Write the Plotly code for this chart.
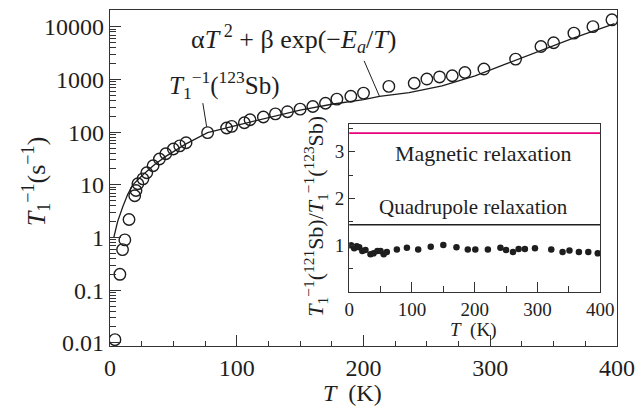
import math
import plotly.graph_objects as go

# Main panel: 123Sb relaxation rate (open circles)
T_main = [3.9, 7.8, 9.9, 11.7, 15, 19.5, 20.5, 22, 26, 29, 34, 39, 44, 50, 55, 60,
          77, 92, 96, 106, 110.5, 121, 130.5, 140, 150, 160, 170, 179, 190, 200,
          220, 240, 250, 260, 270, 280, 295, 320, 340, 350, 366, 381, 396]
rate_main = [0.0115, 0.2, 0.59, 0.9, 2.2, 6.2, 7.8, 10.5, 13, 17, 23, 31, 39, 48, 55, 63,
             98, 120, 129, 151, 172, 194, 223, 245, 274, 307, 355, 424, 480, 552,
             740, 850, 1020, 1120, 1180, 1360, 1580, 2440, 4240, 5000, 7600, 10100, 13600]

# Fit curve alpha T^2 + beta exp(-Ea/T)
curve_T = [3, 6, 10, 14, 18, 22, 26, 35, 44, 60, 77, 100, 125, 150, 175, 200, 212.6,
           236, 262, 288, 314, 340, 366, 392, 398]
curve_rate = [1.0, 2.0, 3.8, 6.6, 10, 12.6, 15.5, 24, 34.7, 60, 98, 135, 190, 263, 339,
              417, 479, 562, 759, 1175, 2042, 3548, 6166, 10230, 11480]

# Inset: ratio 121Sb / 123Sb
T_inset = [3, 8, 12, 16, 21, 26, 34, 39, 45, 50, 55, 60, 76, 92, 110, 130, 150, 171,
           189, 201, 221, 241, 250, 261, 270, 280, 296, 322, 340, 351, 366, 381, 396]
ratio_inset = [1.0, 0.94, 0.98, 0.96, 0.88, 0.9, 0.81, 0.83, 0.88, 0.88, 0.81, 0.86,
               0.91, 0.95, 0.91, 0.97, 1.01, 0.96, 0.91, 0.91, 0.91, 0.95, 0.9, 0.86,
               0.92, 0.92, 0.94, 0.91, 0.86, 0.89, 0.86, 0.86, 0.83]
line_T = [0, 400]
magnetic_ratio = [3.4, 3.4]
quadrupole_ratio = [1.44, 1.44]

main_x_ticks = [0, 100, 200, 300, 400]
main_y_ticks = [0.01, 0.1, 1, 10, 100, 1000, 10000]
main_y_labels = ["0.01", "0.1", "1", "10", "100", "1000", "10000"]
inset_x_ticks = [0, 100, 200, 300, 400]
inset_y_ticks = [1, 2, 3]

FONT = "Liberation Serif"
INK = "#1e1e1e"
AX = "#333333"

minor_y = [m * 10 ** e for e in range(-3, 5) for m in range(2, 10)]

fig = go.Figure()
fig.add_trace(go.Scatter(x=curve_T, y=curve_rate, mode="lines",
                         line=dict(color=INK, width=1.3), xaxis="x", yaxis="y"))
fig.add_trace(go.Scatter(x=T_main, y=rate_main, mode="markers",
                         marker=dict(symbol="circle-open", size=11.5, color=INK,
                                     line=dict(width=1.4)), xaxis="x", yaxis="y"))
fig.add_trace(go.Scatter(x=line_T, y=magnetic_ratio, mode="lines",
                         line=dict(color="#e6007e", width=1.8), xaxis="x2", yaxis="y2"))
fig.add_trace(go.Scatter(x=line_T, y=quadrupole_ratio, mode="lines",
                         line=dict(color=INK, width=1.6), xaxis="x2", yaxis="y2"))
fig.add_trace(go.Scatter(x=T_inset, y=ratio_inset, mode="markers",
                         marker=dict(symbol="circle", size=6.5, color=INK),
                         xaxis="x2", yaxis="y2"))

axis_common = dict(showline=True, mirror=True, linecolor=AX, linewidth=1.3,
                   showgrid=False, zeroline=False, ticks="inside", tickcolor=AX)

fig.update_layout(
    width=644, height=411,
    margin=dict(l=110, r=21, t=9, b=65),
    paper_bgcolor="white", plot_bgcolor="white",
    showlegend=False,
    font=dict(family=FONT, color=INK),
    xaxis=dict(**axis_common, domain=[0, 1], range=[0, 400], tickmode="array",
               tickvals=main_x_ticks, ticklen=11, tickwidth=1.2,
               tickfont=dict(size=24, family=FONT, color=INK),
               minor=dict(ticks="inside", dtick=25, ticklen=5, tickcolor=AX, tickwidth=1)),
    yaxis=dict(**axis_common, type="log", range=[-2.06, 4.32], tickmode="array",
               tickvals=main_y_ticks, ticktext=main_y_labels, ticklen=11, tickwidth=1.2,
               tickfont=dict(size=24, family=FONT, color=INK),
               minor=dict(ticks="inside", tickmode="array", tickvals=minor_y,
                          ticklen=6, tickcolor=AX, tickwidth=1)),
    xaxis2=dict(**axis_common, domain=[0.4717, 0.9669], anchor="y2", range=[0, 400],
                tickmode="array", tickvals=inset_x_ticks, ticklen=10, tickwidth=1.1,
                tickfont=dict(size=19, family=FONT, color=INK),
                minor=dict(ticks="inside", dtick=50, ticklen=6, tickcolor=AX, tickwidth=1)),
    yaxis2=dict(**axis_common, domain=[0.1602, 0.6617], anchor="x2", range=[0, 3.6],
                tickmode="array", tickvals=inset_y_ticks, ticklen=6, tickwidth=1.1,
                tickfont=dict(size=19, family=FONT, color=INK),
                minor=dict(ticks="inside", dtick=0.5, ticklen=4, tickcolor=AX, tickwidth=1)),
)


def label(text, x, y, size, xref="paper", yref="paper", angle=0):
    return dict(text=text, xref=xref, yref=yref, x=x, y=y, textangle=angle,
                xanchor="center", yanchor="middle", showarrow=False,
                font=dict(size=size, family=FONT, color=INK))


ann = []
# axis titles
ann.append(label("<i>T</i>  (K)", 0.4776, -0.139, 24))
ann.append(label("<i>T</i><sub>1</sub><sup>−1</sup>(s<sup>−1</sup>)", -0.146, 0.49, 26,
                 angle=-90))
# inset titles
ann.append(label("<i>T</i>  (K)", 0.715, 0.047, 19))
ann.append(label("<i>T</i><sub>1</sub><sup>−1</sup>(<sup>121</sup>Sb)/<i>T</i><sub>1</sub><sup>−1</sup>(<sup>123</sup>Sb)",
                 0.405, 0.386, 22, angle=-90))
ann.append(label("Magnetic relaxation", 214, 2.96, 22, xref="x2", yref="y2"))
ann.append(label("Quadrupole relaxation", 198, 1.83, 21, xref="x2", yref="y2"))
# main labels
ann.append(label("α<i>T</i><sup> 2</sup> + β exp(−<i>E</i><sub><i>a</i></sub>/<i>T</i>)",
                 0.3626, 0.914, 26))
ann.append(label("<i>T</i><sub>1</sub><sup>−1</sup>(<sup>123</sup>Sb)", 0.226, 0.777, 25))
# leader lines
ann.append(dict(text="", x=T_main[16], y=math.log10(rate_main[16]), xref="x", yref="y",
                showarrow=True, arrowhead=0, arrowwidth=1, arrowcolor=INK,
                ax=-5, ay=-31, standoff=6))
ann.append(dict(text="", x=curve_T[16], y=math.log10(curve_rate[16]), xref="x", yref="y",
                showarrow=True, arrowhead=0, arrowwidth=1, arrowcolor=INK,
                ax=-16, ay=-37, standoff=0))
fig.update_layout(annotations=ann)

fig.write_html("out.html")
